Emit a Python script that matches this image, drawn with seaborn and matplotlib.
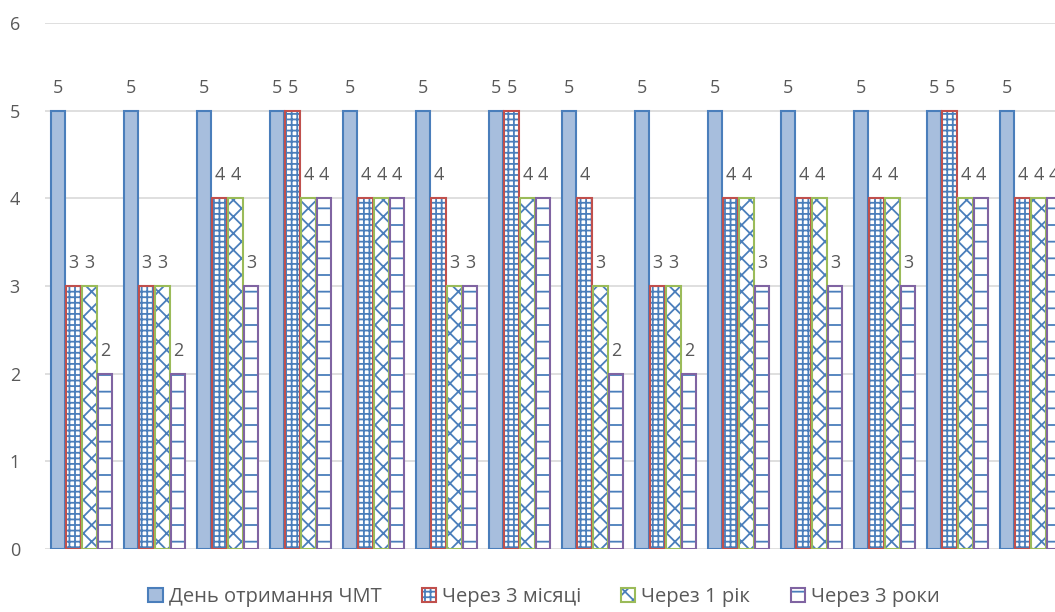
import matplotlib
matplotlib.use("Agg")
import matplotlib.pyplot as plt
from matplotlib.colors import to_rgba
from matplotlib.patches import Patch
import pandas as pd
import seaborn as sns

# Scores per patient at each follow-up point
patients = [str(i) for i in range(1, 15)]
series_names = ["День отримання ЧМТ", "Через 3 місяці", "Через 1 рік", "Через 3 роки"]
day_of_injury = [5, 5, 5, 5, 5, 5, 5, 5, 5, 5, 5, 5, 5, 5]
after_3_months = [3, 3, 4, 5, 4, 4, 5, 4, 3, 4, 4, 4, 5, 4]
after_1_year = [3, 3, 4, 4, 4, 3, 4, 3, 3, 4, 4, 4, 4, 4]
after_3_years = [2, 2, 3, 4, 4, 3, 4, 2, 2, 3, 3, 3, 4, 4]
y_ticks = [0, 1, 2, 3, 4, 5, 6]

# Styling for each series: fill, outline, hatch
pattern_blue = "#4A7EBB"
fills = ["#A7BEDD", "white", "white", "white"]
edges = ["#4A7EBB", "#C0504D", "#9BBB59", "#8064A2"]
hatches = [None, "+++", "xx", "-"]
text_grey = "#595959"

values = [day_of_injury, after_3_months, after_1_year, after_3_years]
df = pd.DataFrame(
    [(p, s, v) for s, vals in zip(series_names, values) for p, v in zip(patients, vals)],
    columns=["patient", "series", "score"],
)

sns.set_theme(style="white")
plt.rcParams["font.family"] = ["Open Sans", "DejaVu Sans"]
plt.rcParams["hatch.linewidth"] = 1.3

fig = plt.figure(figsize=(10.55, 6.12), dpi=100)
ax = fig.add_axes([45 / 1055, 63 / 612, 1022 / 1055, 526 / 612])

sns.barplot(
    data=df, x="patient", y="score", hue="series", hue_order=series_names,
    order=patients, width=0.86, gap=0.06, ax=ax, legend=False,
)

hatch_rgba = to_rgba(pattern_blue)
for cont, fc, ec, h in zip(ax.containers, fills, edges, hatches):
    for bar in cont:
        bar.set_facecolor(fc)
        bar.set_edgecolor(ec)
        bar.set_linewidth(1.5)
        if h:
            bar.set_hatch(h)
            bar._hatch_color = hatch_rgba
    ax.bar_label(cont, fmt="%d", padding=10, fontsize=13, color=text_grey)

ax.set_xlim(-0.5, len(patients) - 0.5)
ax.set_ylim(0, 6)
ax.set_yticks(y_ticks)
ax.set_xticks([])
ax.set_xlabel("")
ax.set_ylabel("")
ax.tick_params(axis="y", length=0, pad=18, labelsize=13, labelcolor=text_grey)
ax.yaxis.grid(True, color="#D9D9D9", linewidth=1.2)
ax.set_axisbelow(True)
for sp in ax.spines.values():
    sp.set_visible(False)

handles = []
for fc, ec, h in zip(fills, edges, hatches):
    p = Patch(facecolor=fc, edgecolor=ec, linewidth=1.5, hatch=h)
    if h:
        p._hatch_color = hatch_rgba
    handles.append(p)

fig.legend(
    handles, series_names, loc="center", bbox_to_anchor=(544 / 1055, 15 / 612),
    ncol=4, frameon=False, fontsize=14.5, labelcolor=text_grey,
    handlelength=0.7, handleheight=0.7, handletextpad=0.3, columnspacing=2.0,
)

fig.savefig("out.png", dpi=100)
